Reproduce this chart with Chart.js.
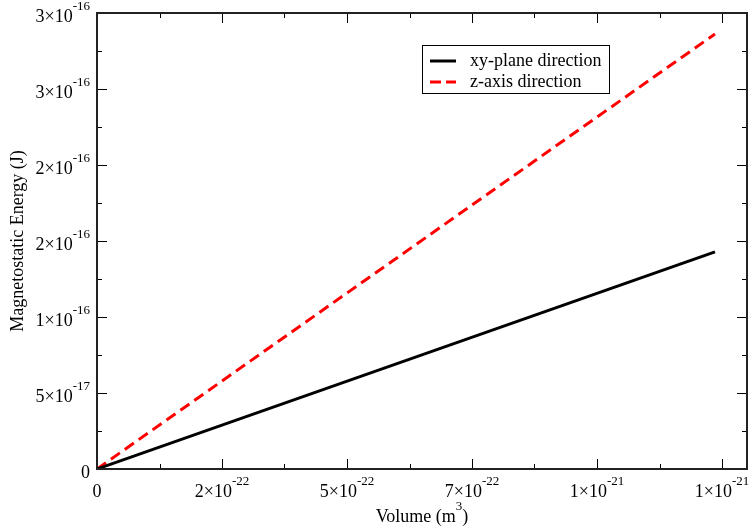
<!DOCTYPE html>
<html><head><meta charset="utf-8">
<script src="https://cdn.jsdelivr.net/npm/chart.js@4/dist/chart.umd.min.js"></script>
<style>html,body{margin:0;padding:0;background:#fff}#wrap{width:753px;height:527px;position:relative}</style>
</head><body><div id="wrap"><canvas id="c" width="753" height="527"></canvas></div>
<script>
// ---- data ----
const volumes = [0, 1.236e-21];
const xyPlaneEnergy = [0, 1.428e-16];
const zAxisEnergy = [0, 2.862e-16];
const seriesNames = ['xy-plane direction', 'z-axis direction'];
const xTickValues = [0, 2.5e-22, 5e-22, 7.5e-22, 1e-21, 1.25e-21];
const xTickLabels = [['0', ''], ['2×10', '-22'], ['5×10', '-22'], ['7×10', '-22'], ['1×10', '-21'], ['1×10', '-21']];
const yTickValues = [0, 5e-17, 1e-16, 1.5e-16, 2e-16, 2.5e-16, 3e-16];
const yTickLabels = [['0', ''], ['5×10', '-17'], ['1×10', '-16'], ['2×10', '-16'], ['2×10', '-16'], ['3×10', '-16'], ['3×10', '-16']];
const xTitle = ['Volume (m', '3', ')'];
const yTitle = 'Magnetostatic Energy (J)';

const FONT = '"Liberation Serif", "Times New Roman", serif';
const MAIN = 18, SUP = 13, SUPRAISE = 12;

function drawSup(ctx, parts, x, y, align) {
  ctx.font = MAIN + 'px ' + FONT;
  const w0 = ctx.measureText(parts[0]).width;
  ctx.font = SUP + 'px ' + FONT;
  const w1 = parts[1] ? ctx.measureText(parts[1]).width : 0;
  let w2 = 0;
  if (parts[2]) { ctx.font = MAIN + 'px ' + FONT; w2 = ctx.measureText(parts[2]).width; }
  const total = w0 + w1 + w2;
  let sx = align === 'right' ? x - total : align === 'center' ? x - total / 2 : x;
  ctx.textAlign = 'left';
  ctx.textBaseline = 'alphabetic';
  ctx.font = MAIN + 'px ' + FONT;
  ctx.fillText(parts[0], sx, y);
  if (parts[1]) { ctx.font = SUP + 'px ' + FONT; ctx.fillText(parts[1], sx + w0, y - SUPRAISE); }
  if (parts[2]) { ctx.font = MAIN + 'px ' + FONT; ctx.fillText(parts[2], sx + w0 + w1, y); }
}

const framePlugin = {
  id: 'frame',
  afterDraw(chart) {
    const ctx = chart.ctx, a = chart.chartArea;
    const xs = chart.scales.x, ys = chart.scales.y;
    ctx.save();
    // ticks (inside, all four sides)
    ctx.strokeStyle = '#000'; ctx.lineWidth = 1;
    ctx.beginPath();
    for (let i = 0; i < xTickValues.length; i++) {
      const v = xTickValues[i];
      const px = Math.round(xs.getPixelForValue(v)) + 0.5;
      ctx.moveTo(px, a.bottom); ctx.lineTo(px, a.bottom - 10);
      ctx.moveTo(px, a.top); ctx.lineTo(px, a.top + 10);
      if (i < xTickValues.length - 1) {
        const m = Math.round(xs.getPixelForValue((v + xTickValues[i + 1]) / 2)) + 0.5;
        ctx.moveTo(m, a.bottom); ctx.lineTo(m, a.bottom - 5);
        ctx.moveTo(m, a.top); ctx.lineTo(m, a.top + 5);
      }
    }
    for (let i = 0; i < yTickValues.length; i++) {
      const v = yTickValues[i];
      const py = Math.round(ys.getPixelForValue(v)) + 0.5;
      ctx.moveTo(a.left, py); ctx.lineTo(a.left + 10, py);
      ctx.moveTo(a.right, py); ctx.lineTo(a.right - 10, py);
      if (i < yTickValues.length - 1) {
        const m = Math.round(ys.getPixelForValue((v + yTickValues[i + 1]) / 2)) + 0.5;
        ctx.moveTo(a.left, m); ctx.lineTo(a.left + 5, m);
        ctx.moveTo(a.right, m); ctx.lineTo(a.right - 5, m);
      }
    }
    ctx.stroke();
    // frame
    ctx.strokeStyle = '#222'; ctx.lineWidth = 2;
    ctx.strokeRect(a.left, a.top, a.right - a.left, a.bottom - a.top);
    // tick labels
    ctx.fillStyle = '#000';
    xTickValues.forEach((v, i) => {
      const px = xs.getPixelForValue(v);
      drawSup(ctx, xTickLabels[i], px, a.bottom + 28, 'center');
    });
    yTickValues.forEach((v, i) => {
      const py = ys.getPixelForValue(v);
      drawSup(ctx, yTickLabels[i], a.left - 7, py + 9, 'right');
    });
    // axis titles
    drawSup(ctx, xTitle, (a.left + a.right) / 2, 522, 'center');
    ctx.save();
    ctx.translate(23, (a.top + a.bottom) / 2);
    ctx.rotate(-Math.PI / 2);
    ctx.font = MAIN + 'px ' + FONT;
    ctx.textAlign = 'center'; ctx.textBaseline = 'alphabetic';
    ctx.fillText(yTitle, 0, 0);
    ctx.restore();
    // legend
    ctx.lineWidth = 1; ctx.strokeStyle = '#000';
    ctx.strokeRect(422.5, 45.5, 187, 48);
    chart.data.datasets.forEach((ds, i) => {
      const y = 61 + i * 21;
      ctx.beginPath();
      ctx.strokeStyle = ds.borderColor; ctx.lineWidth = 3;
      ctx.setLineDash(ds.borderDash ? [11, 5] : []);
      ctx.moveTo(430, y); ctx.lineTo(456, y);
      ctx.stroke();
      ctx.setLineDash([]);
      ctx.font = MAIN + 'px ' + FONT;
      ctx.fillStyle = '#000';
      ctx.textAlign = 'left'; ctx.textBaseline = 'middle';
      ctx.fillText(ds.label, 470, y);
    });
    ctx.restore();
  }
};

new Chart(document.getElementById('c'), {
  type: 'scatter',
  data: {
    datasets: [
      { label: seriesNames[0], data: volumes.map((v, i) => ({ x: v, y: xyPlaneEnergy[i] })),
        showLine: true, borderColor: '#000', borderWidth: 3, pointRadius: 0, fill: false },
      { label: seriesNames[1], data: volumes.map((v, i) => ({ x: v, y: zAxisEnergy[i] })),
        showLine: true, borderColor: '#ff0000', borderWidth: 3, borderDash: [11, 6], pointRadius: 0, fill: false }
    ]
  },
  options: {
    responsive: false, animation: false, devicePixelRatio: 1,
    layout: { padding: { top: 13, right: 6, left: 0, bottom: 0 } },
    plugins: { legend: { display: false }, tooltip: { enabled: false } },
    scales: {
      x: { type: 'linear', min: 0, max: 1.3e-21,
           ticks: { display: false }, grid: { display: false }, border: { display: false },
           afterFit: s => { s.height = 58; } },
      y: { type: 'linear', min: 0, max: 3e-16,
           ticks: { display: false }, grid: { display: false }, border: { display: false },
           afterFit: s => { s.width = 97; } }
    }
  },
  plugins: [framePlugin]
});
</script></body></html>
